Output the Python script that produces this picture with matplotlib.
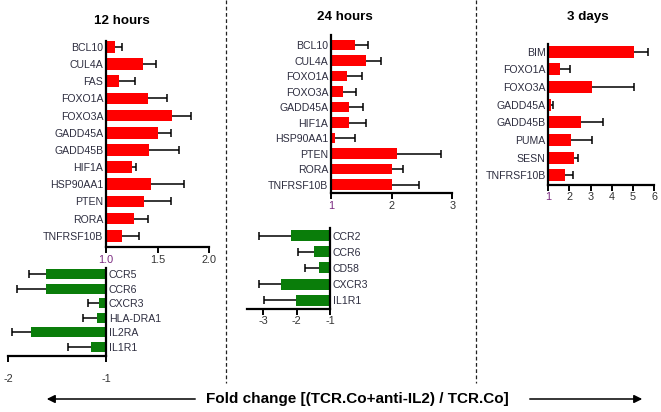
import numpy as np
import matplotlib
matplotlib.use("Agg")
import matplotlib.pyplot as plt
from matplotlib.lines import Line2D

plt.rcParams['font.family'] = ['Liberation Sans', 'DejaVu Sans']

# data: fold change and error (upper side only)
h12_up_genes = ["BCL10", "CUL4A", "FAS", "FOXO1A", "FOXO3A", "GADD45A", "GADD45B",
                "HIF1A", "HSP90AA1", "PTEN", "RORA", "TNFRSF10B"]
h12_up_fc = [1.09, 1.36, 1.13, 1.41, 1.64, 1.50, 1.42, 1.25, 1.44, 1.37, 1.27, 1.16]
h12_up_err = [0.07, 0.13, 0.15, 0.18, 0.19, 0.13, 0.29, 0.04, 0.32, 0.26, 0.14, 0.16]

h12_down_genes = ["CCR5", "CCR6", "CXCR3", "HLA-DRA1", "IL2RA", "IL1R1"]
h12_down_fc = [-1.61, -1.61, -1.07, -1.09, -1.77, -1.15]
h12_down_err = [0.18, 0.30, 0.11, 0.14, 0.19, 0.24]

h24_up_genes = ["BCL10", "CUL4A", "FOXO1A", "FOXO3A", "GADD45A", "HIF1A",
                "HSP90AA1", "PTEN", "RORA", "TNFRSF10B"]
h24_up_fc = [1.40, 1.58, 1.27, 1.19, 1.30, 1.29, 1.07, 2.08, 2.00, 2.00]
h24_up_err = [0.21, 0.25, 0.24, 0.22, 0.23, 0.28, 0.33, 0.74, 0.19, 0.45]

h24_down_genes = ["CCR2", "CCR6", "CD58", "CXCR3", "IL1R1"]
h24_down_fc = [-2.17, -1.47, -1.33, -2.48, -2.02]
h24_down_err = [0.95, 0.48, 0.42, 0.64, 0.95]

d3_genes = ["BIM", "FOXO1A", "FOXO3A", "GADD45A", "GADD45B", "PUMA", "SESN", "TNFRSF10B"]
d3_fc = [5.06, 1.55, 3.06, 1.13, 2.54, 2.07, 2.20, 1.80]
d3_err = [0.66, 0.49, 2.00, 0.11, 1.03, 0.98, 0.19, 0.35]

W, H = 661, 412
fig = plt.figure(figsize=(W / 100, H / 100), dpi=100)

RED = '#ff0000'
GREEN = '#0a7d0a'
LABEL_C = '#2e2e40'
PURPLE = '#7a2a80'


def add_ax(left, right, top, bottom):
    return fig.add_axes([left / W, 1 - bottom / H, (right - left) / W, (bottom - top) / H])


def panel(ax, genes, fc, err, base, xlim, ylim, ticks, ticklabels, color, side, xpad):
    fc = np.array(fc)
    err = np.array(err)
    y = np.arange(len(genes))
    ax.barh(y, fc - base, left=base, height=0.68, color=color, zorder=2)
    ends = fc + np.sign(fc) * err
    ax.hlines(y, fc, ends, color='k', lw=1.1, zorder=1)
    ax.plot(ends, y, ls='none', marker='|', ms=5.5, mew=1.1, color='k', zorder=1)
    ax.set_xlim(xlim)
    ax.set_ylim(ylim)
    ax.set_yticks(y)
    ax.set_yticklabels(genes, fontsize=7.6, color=LABEL_C)
    ax.set_xticks(ticks)
    ax.set_xticklabels(ticklabels, fontsize=7.8, color='#333333')
    for s in ax.spines.values():
        s.set_visible(False)
    ax.spines['bottom'].set_visible(True)
    ax.spines['bottom'].set_linewidth(1.6)
    ax.spines[side].set_visible(True)
    ax.spines[side].set_linewidth(1.6)
    if side == 'right':
        ax.yaxis.tick_right()
    ax.tick_params(axis='y', length=0, pad=2)
    ax.tick_params(axis='x', length=4, width=1.4, direction='out', pad=xpad)
    ax.patch.set_alpha(0)
    return ax


# 12 hours
ax = add_ax(106, 209, 41, 247)
panel(ax, h12_up_genes, h12_up_fc, h12_up_err, 1.0, (1.0, 2.0), (11.66, -0.35),
      [1.0, 1.5, 2.0], ["1.0", "1.5", "2.0"], RED, 'left', 1.5)
ax.get_xticklabels()[0].set_color(PURPLE)

ax = add_ax(8, 106, 268, 356)
panel(ax, h12_down_genes, h12_down_fc, h12_down_err, -1.0, (-2.0, -1.0), (5.62, -0.41),
      [-2, -1], ["-2", "-1"], GREEN, 'right', 9)

# 24 hours
ax = add_ax(331, 452.4, 35, 193)
panel(ax, h24_up_genes, h24_up_fc, h24_up_err, 1.0, (1.0, 3.0), (9.54, -0.65),
      [1, 2, 3], ["1", "2", "3"], RED, 'left', 1.5)
ax.get_xticklabels()[0].set_color(PURPLE)

ax = add_ax(246.7, 330, 228, 308.5)
panel(ax, h24_down_genes, h24_down_fc, h24_down_err, -1.0, (-3.5, -1.0), (4.52, -0.48),
      [-3, -2, -1], ["-3", "-2", "-1"], GREEN, 'right', 1.5)

# 3 days
ax = add_ax(548.3, 654.3, 44, 184.5)
panel(ax, d3_genes, d3_fc, d3_err, 1.0, (1, 6), (7.53, -0.44),
      [1, 2, 3, 4, 5, 6], ["1", "2", "3", "4", "5", "6"], RED, 'left', 1.5)
ax.get_xticklabels()[0].set_color(PURPLE)

# titles
fig.text(122 / W, 1 - 21 / H, "12 hours", fontsize=9.6, fontweight='bold', ha='center', va='center')
fig.text(345 / W, 1 - 17 / H, "24 hours", fontsize=9.6, fontweight='bold', ha='center', va='center')
fig.text(588 / W, 1 - 17 / H, "3 days", fontsize=9.6, fontweight='bold', ha='center', va='center')

# dashed separators
for xp in [226, 476]:
    fig.add_artist(Line2D([xp / W, xp / W], [1, 1 - 383 / H], color='#222222', lw=0.9,
                          ls=(0, (3, 2))))

# bottom label with arrows
fig.text(357 / W, 1 - 399 / H, "Fold change [(TCR.Co+anti-IL2) / TCR.Co]", fontsize=11,
         fontweight='bold', ha='center', va='center')
fig.patches.append(matplotlib.patches.FancyArrowPatch(
    (198 / W, 1 - 399 / H), (44 / W, 1 - 399 / H), transform=fig.transFigure,
    arrowstyle='-|>', mutation_scale=12, color='k', lw=1.1))
fig.patches.append(matplotlib.patches.FancyArrowPatch(
    (527 / W, 1 - 399 / H), (645 / W, 1 - 399 / H), transform=fig.transFigure,
    arrowstyle='-|>', mutation_scale=12, color='k', lw=1.1))

fig.savefig("out.png", dpi=100)
